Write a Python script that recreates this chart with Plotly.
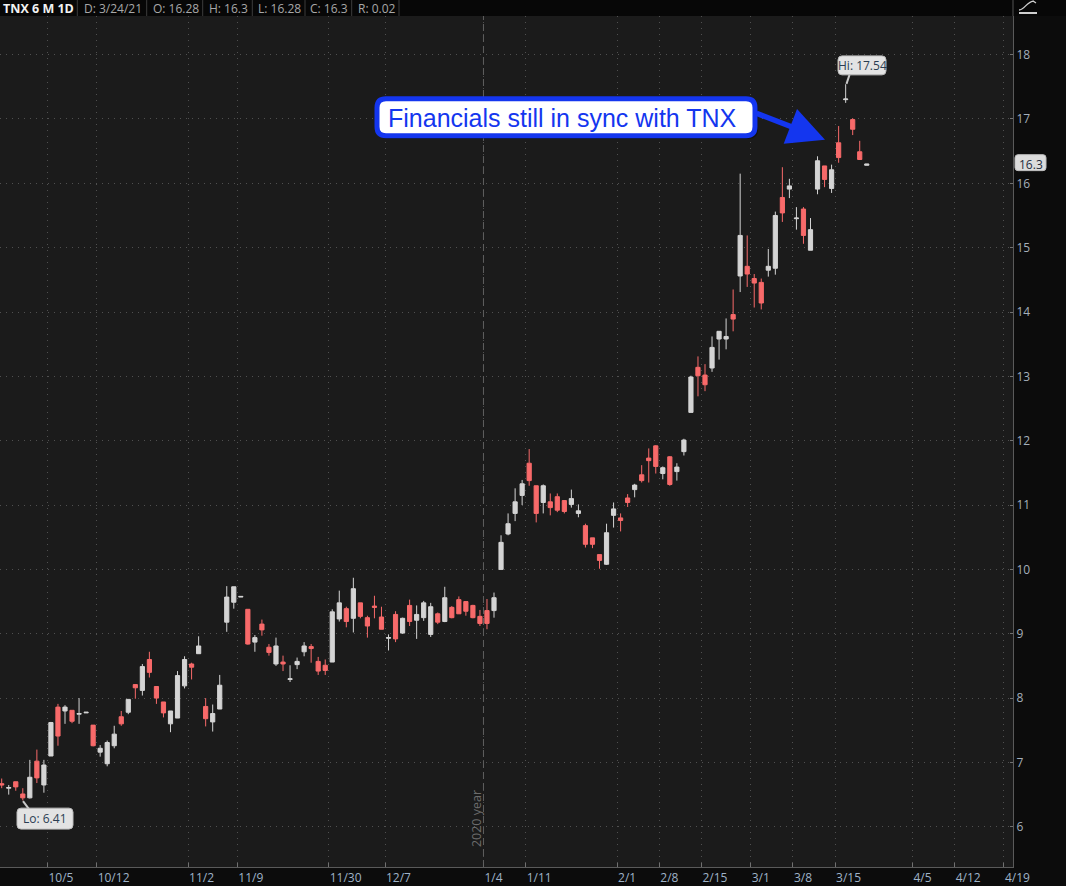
import plotly.graph_objects as go

# ---------------- data ----------------
opens = [6.67, 6.60, 6.70, 6.51, 6.45, 7.02, 6.65, 7.10, 7.86, 7.80,
         7.81, 7.75, 7.77, 7.58, 7.16, 6.98, 7.26, 7.71, 7.78, 8.21,
         8.12, 8.60, 8.18, 7.94, 7.60, 7.69, 8.19, 8.53, 8.69, 7.87,
         7.63, 7.83, 9.18, 9.49, 9.57, 9.38, 8.87, 9.15, 8.79, 8.53,
         8.56, 8.29, 8.52, 8.72, 8.80, 8.57, 8.51, 8.56, 9.23, 9.39,
         9.24, 9.48, 9.25, 9.43, 9.26, 8.93, 9.30, 9.01, 9.44, 9.21,
         9.25, 8.99, 9.31, 9.19, 9.41, 9.53, 9.50, 9.44, 9.27, 9.36,
         9.36, 10.00, 10.55, 10.87, 11.15, 11.65, 11.30, 11.04, 11.05, 11.13,
         11.07, 11.01, 10.87, 10.68, 10.49, 10.23, 10.08, 10.84, 10.80, 11.11,
         11.24, 11.47, 11.73, 11.92, 11.49, 11.75, 11.52, 11.83, 12.44, 13.14,
         13.02, 13.13, 13.58, 13.58, 13.96, 14.56, 14.71, 14.52, 14.46, 14.65,
         14.68, 15.78, 15.91, 15.45, 15.60, 14.96, 15.91, 16.27, 15.92, 16.63,
         17.30, 16.99, 16.49, 16.28]
highs = [6.75, 6.65, 6.70, 6.60, 7.04, 7.20, 7.04, 7.63, 7.91, 7.89,
         7.81, 8.00, 7.78, 7.58, 7.27, 7.34, 7.57, 7.80, 7.98, 8.21,
         8.53, 8.72, 8.18, 7.94, 7.80, 8.42, 8.65, 8.55, 8.96, 8.00,
         7.90, 8.36, 9.74, 9.73, 9.58, 9.38, 8.98, 9.22, 8.84, 8.94,
         8.66, 8.51, 8.63, 8.87, 8.84, 8.64, 8.60, 9.38, 9.67, 9.42,
         9.87, 9.48, 9.28, 9.59, 9.42, 8.99, 9.35, 9.25, 9.53, 9.44,
         9.51, 9.48, 9.33, 9.73, 9.43, 9.58, 9.50, 9.45, 9.37, 9.54,
         9.64, 10.53, 10.87, 11.26, 11.39, 11.87, 11.30, 11.32, 11.18, 11.18,
         11.07, 11.24, 11.01, 10.71, 10.49, 10.23, 10.71, 11.04, 10.87, 11.17,
         11.33, 11.62, 11.88, 11.93, 11.60, 11.76, 11.65, 12.03, 13.01, 13.31,
         13.19, 13.62, 13.70, 13.90, 14.35, 16.15, 15.19, 14.59, 14.52, 14.98,
         15.56, 16.25, 16.07, 15.63, 15.63, 15.46, 16.42, 16.27, 16.29, 16.89,
         17.54, 17.01, 16.66, 16.30]
lows = [6.60, 6.50, 6.56, 6.41, 6.44, 6.68, 6.53, 7.10, 7.26, 7.60,
        7.61, 7.60, 7.77, 7.25, 7.09, 6.94, 7.22, 7.57, 7.75, 7.99,
        8.04, 8.32, 7.91, 7.70, 7.47, 7.69, 8.15, 8.29, 8.69, 7.56,
        7.48, 7.83, 9.03, 9.39, 9.57, 8.83, 8.72, 8.97, 8.66, 8.50,
        8.42, 8.25, 8.45, 8.65, 8.55, 8.36, 8.36, 8.56, 9.19, 9.10,
        9.02, 9.24, 8.94, 9.24, 9.07, 8.74, 8.87, 9.00, 9.12, 8.92,
        9.20, 8.95, 9.15, 9.18, 9.24, 9.31, 9.28, 9.24, 9.12, 9.07,
        9.25, 9.99, 10.53, 10.75, 11.00, 11.30, 10.73, 10.87, 10.84, 10.89,
        10.87, 10.96, 10.81, 10.34, 10.33, 10.01, 10.07, 10.65, 10.59, 10.97,
        11.12, 11.35, 11.35, 11.49, 11.40, 11.30, 11.38, 11.77, 12.44, 12.69,
        12.77, 13.07, 13.26, 13.42, 13.70, 14.31, 14.39, 14.07, 14.04, 14.55,
        14.58, 15.40, 15.77, 15.28, 15.06, 14.96, 15.83, 15.94, 15.85, 16.32,
        17.25, 16.75, 16.37, 16.28]
closes = [6.65, 6.61, 6.62, 6.45, 6.77, 6.76, 6.96, 7.62, 7.41, 7.86,
          7.64, 7.76, 7.78, 7.26, 7.22, 7.31, 7.44, 7.60, 7.98, 8.16,
          8.49, 8.40, 8.00, 7.77, 7.80, 8.35, 8.60, 8.48, 8.81, 7.68,
          7.76, 8.20, 9.57, 9.73, 9.58, 8.84, 8.94, 9.06, 8.71, 8.81,
          8.53, 8.30, 8.57, 8.81, 8.77, 8.42, 8.43, 9.34, 9.48, 9.19,
          9.70, 9.27, 9.12, 9.41, 9.07, 8.94, 8.92, 9.24, 9.19, 9.30,
          9.48, 9.42, 9.18, 9.56, 9.25, 9.31, 9.35, 9.25, 9.16, 9.16,
          9.56, 10.42, 10.71, 11.05, 11.33, 11.38, 10.87, 11.30, 10.96, 10.92,
          10.90, 11.10, 10.91, 10.39, 10.39, 10.14, 10.57, 10.94, 10.76, 11.04,
          11.31, 11.38, 11.69, 11.60, 11.58, 11.32, 11.59, 12.01, 12.99, 13.01,
          12.87, 13.45, 13.70, 13.62, 13.89, 15.19, 14.59, 14.45, 14.14, 14.71,
          15.50, 15.54, 15.96, 15.46, 15.19, 15.28, 16.35, 16.06, 16.21, 16.40,
          17.31, 16.84, 16.37, 16.30]
bar_index = list(range(len(opens)))

tick_labels = ["10/5", "10/12", "11/2", "11/9", "11/30", "12/7", "1/4", "1/11",
               "2/1", "2/8", "2/15", "3/1", "3/8", "3/15", "4/5", "4/12", "4/19"]
tick_pos = [6.5, 13.5, 26.5, 33.5, 46.5, 54.5, 68.5, 74.5,
            87.5, 93.5, 99.5, 106.5, 112.5, 118.5, 129.5, 135.5, 142.5]
y_ticks = list(range(6, 19))
year_break_pos = 68.5

header_title = "TNX 6 M 1D"
header_fields = ["D: 3/24/21", "O: 16.28", "H: 16.3", "L: 16.28", "C: 16.3", "R: 0.02"]
lo_text = "Lo: 6.41"
hi_text = "Hi: 17.54"
last_text = "16.3"
last_value = 16.3
callout_text = "Financials still in sync with TNX"

# ---------------- layout geometry ----------------
W, H = 1066, 886
ML, MR, MT, MB = 0, 53, 16, 17
PW = W - ML - MR
PH = H - MT - MB
Y_BOTTOM = H - MB


def PX(px):
    return (px - ML) / PW


def PY(py):
    return (Y_BOTTOM - py) / PH


def rrect(x0, y0, x1, y1, r):
    pts = [
        f"M {PX(x0 + r)},{PY(y0)}",
        f"L {PX(x1 - r)},{PY(y0)}",
        f"Q {PX(x1)},{PY(y0)} {PX(x1)},{PY(y0 + r)}",
        f"L {PX(x1)},{PY(y1 - r)}",
        f"Q {PX(x1)},{PY(y1)} {PX(x1 - r)},{PY(y1)}",
        f"L {PX(x0 + r)},{PY(y1)}",
        f"Q {PX(x0)},{PY(y1)} {PX(x0)},{PY(y1 - r)}",
        f"L {PX(x0)},{PY(y0 + r)}",
        f"Q {PX(x0)},{PY(y0)} {PX(x0 + r)},{PY(y0)}",
        "Z",
    ]
    return " ".join(pts)


UP = "#d4d4d4"
DOWN = "#f86a6a"
GRID = "#505050"
AXIS_TXT = "#a4afbb"
FONT = "Open Sans"

fig = go.Figure()
fig.add_trace(go.Candlestick(
    x=bar_index, open=opens, high=highs, low=lows, close=closes,
    increasing=dict(line=dict(color=UP, width=1), fillcolor=UP),
    decreasing=dict(line=dict(color=DOWN, width=1), fillcolor=DOWN),
    whiskerwidth=0, hoverinfo="skip", showlegend=False,
))

shapes = []
annotations = []


def note(x, y, text, size, color, family=FONT, xanchor="center", yanchor="middle", **kw):
    d = dict(xref="paper", yref="paper", x=x, y=y, text=text, showarrow=False,
             xanchor=xanchor, yanchor=yanchor,
             font=dict(family=family, size=size, color=color))
    d.update(kw)
    annotations.append(d)


# header background and separators
shapes.append(dict(type="rect", xref="paper", yref="paper",
                   x0=PX(0), x1=PX(W), y0=PY(MT), y1=PY(0),
                   fillcolor="#070707", line=dict(width=0), layer="below"))
for sx in [77.3, 146.7, 202.7, 252.3, 305, 351.7, 399]:
    shapes.append(dict(type="line", xref="paper", yref="paper",
                       x0=PX(sx), x1=PX(sx), y0=PY(MT), y1=PY(0),
                       line=dict(color="#3d3d3d", width=1)))
shapes.append(dict(type="line", xref="paper", yref="paper",
                   x0=PX(PW), x1=PX(PW), y0=PY(MT), y1=PY(0),
                   line=dict(color="#555555", width=1)))

note(PX(1), PY(8), f"<b>{header_title}</b>", 12.5, "#f2f2f2", xanchor="left")
for hx, txt in zip([81.5, 150.5, 206.5, 256, 308, 356], header_fields):
    note(PX(hx), PY(8), txt, 12, "#a8a8a8", xanchor="left")

# top-right icon
shapes.append(dict(type="path", xref="paper", yref="paper",
                   path=f"M {PX(1019)},{PY(10)} C {PX(1024)},{PY(10)} {PX(1027)},{PY(2)} {PX(1033)},{PY(1)}"
                        f" L {PX(1036)},{PY(3)}",
                   line=dict(color="#cfcfcf", width=1.3)))
shapes.append(dict(type="line", xref="paper", yref="paper",
                   x0=PX(1019), x1=PX(1037), y0=PY(13), y1=PY(13),
                   line=dict(color="#cfcfcf", width=2)))

# year break dashed line
shapes.append(dict(type="line", xref="x", yref="paper",
                   x0=year_break_pos, x1=year_break_pos, y0=0, y1=1,
                   line=dict(color="#606060", width=1, dash="7px,4px")))
note(PX(476), PY(821), "2020 year", 12.5, "#6c6c6c", textangle=-90)

# Lo / Hi labels
shapes.append(dict(type="line", xref="paper", yref="paper",
                   x0=PX(23), x1=PX(29), y0=PY(803), y1=PY(811),
                   line=dict(color="#c8c8c8", width=2)))
shapes.append(dict(type="path", xref="paper", yref="paper",
                   path=rrect(17, 810, 73, 831, 4), fillcolor="#e3e3e3",
                   line=dict(color="#bdbdbd", width=1)))
note(PX(45), PY(820.5), lo_text, 12, "#2a3d52")
shapes.append(dict(type="line", xref="paper", yref="paper",
                   x0=PX(846.5), x1=PX(849.5), y0=PY(84), y1=PY(75),
                   line=dict(color="#c8c8c8", width=2)))
shapes.append(dict(type="path", xref="paper", yref="paper",
                   path=rrect(838, 56, 886, 75, 4), fillcolor="#e3e3e3",
                   line=dict(color="#bdbdbd", width=1)))
note(PX(862), PY(65.5), hi_text, 12, "#2a3d52")

# last price label on right axis
shapes.append(dict(type="path", xref="paper", yref="paper",
                   path=rrect(1015, 155, 1046, 171, 3), fillcolor="#dcdcdc",
                   line=dict(color="#bdbdbd", width=1)))
annotations.append(dict(xref="paper", yref="y", x=PX(1030.5), y=last_value,
                        xanchor="center", yanchor="middle", showarrow=False,
                        text=last_text,
                        font=dict(family=FONT, size=12, color="#1f2d3d")))

# callout box + arrow
BLUE = "#1436ef"
shapes.append(dict(type="path", xref="paper", yref="paper",
                   path=rrect(379, 101, 758, 139, 9), fillcolor="rgba(0,0,0,0.35)",
                   line=dict(width=0)))
shapes.append(dict(type="path", xref="paper", yref="paper",
                   path=rrect(377, 99, 755, 136, 9), fillcolor="#ffffff",
                   line=dict(color=BLUE, width=5)))
note(PX(562), PY(118), callout_text, 25, BLUE, family="Liberation Sans")
annotations.append(dict(xref="paper", yref="paper", x=PX(825), y=PY(140),
                        axref="pixel", ayref="pixel", ax=-70, ay=-27,
                        text="", showarrow=True, arrowhead=2, arrowsize=1.35,
                        arrowwidth=5.5, arrowcolor=BLUE, standoff=0))

fig.update_layout(
    width=W, height=H,
    margin=dict(l=ML, r=MR, t=MT, b=MB, pad=0),
    paper_bgcolor="#0c0c0c", plot_bgcolor="#1b1b1b",
    boxgap=0.15,
    showlegend=False,
    shapes=shapes, annotations=annotations,
    font=dict(family=FONT, size=12, color=AXIS_TXT),
    xaxis=dict(
        range=[(0 - 1.7) / 7.033, (PW - 1.7) / 7.033],
        tickmode="array", tickvals=tick_pos, ticktext=tick_labels,
        ticklabelposition="outside right",
        ticks="inside", ticklen=4, tickcolor="#707070",
        showgrid=True, gridcolor=GRID, griddash="1px,5px", gridwidth=1,
        showline=True, linecolor="#5a5a5a", linewidth=1,
        zeroline=False, rangeslider=dict(visible=False), fixedrange=True,
        tickfont=dict(family=FONT, size=12, color="#9fb3c8"),
    ),
    yaxis=dict(
        side="right",
        range=[6 + (828.7 - Y_BOTTOM) / 64.5, 6 + (828.7 - MT) / 64.5],
        tickmode="array", tickvals=y_ticks, ticktext=[str(v) for v in y_ticks],
        ticks="inside", ticklen=3, tickcolor="#707070",
        showgrid=True, gridcolor=GRID, griddash="1px,5px", gridwidth=1,
        showline=True, linecolor="#5a5a5a", linewidth=1,
        zeroline=False, fixedrange=True,
        tickfont=dict(family=FONT, size=12, color=AXIS_TXT),
    ),
)

fig.write_html("out.html", config={"displayModeBar": False},
               post_script="document.body.style.margin='0px';document.body.style.overflow='hidden';")
